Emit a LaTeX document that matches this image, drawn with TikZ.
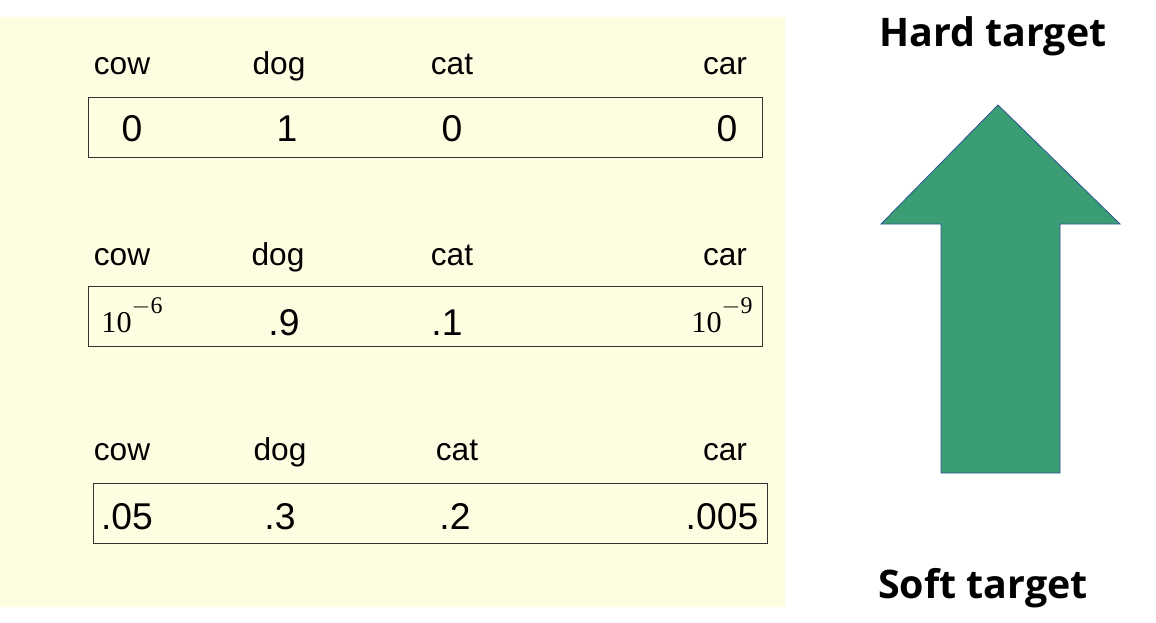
\documentclass[tikz,border=0pt]{standalone}
\usepackage{fontspec}
\setmainfont{Liberation Sans}
\newfontfamily\timesfont{Liberation Serif}
\newfontfamily\headfont{Open Sans}
\usepackage{xcolor}
\usepackage{tikz}
\usetikzlibrary{positioning, calc}
\definecolor{PaleYellow}{RGB}{255,253,225}
\definecolor{ArrowGreen}{RGB}{58,157,115}
\definecolor{ArrowEdge}{RGB}{47,85,151}
\newcommand{\tenpow}[1]{10\raisebox{0.62em}{\fontsize{17}{19}\selectfont$-$#1}}

\begin{document}
\begin{tikzpicture}[
    x=0.025cm, y=-0.025cm,
    label/.style={font=\fontsize{22.5}{24}\selectfont, inner sep=0pt, anchor=base},
    value/.style={font=\fontsize{26.5}{28}\selectfont, inner sep=0pt, anchor=base},
    power/.style={font=\timesfont\fontsize{21.5}{24}\selectfont, inner sep=0pt, anchor=base},
    vecbox/.style={rectangle, draw=black!80, thin, minimum width=674*0.025cm,
                   minimum height=60*0.025cm, inner sep=0pt},
    heading/.style={font=\headfont\bfseries\fontsize{28}{30}\selectfont, inner sep=0pt, anchor=base},
    bigarrow/.style={fill=ArrowGreen, draw=ArrowEdge, line width=0.6pt}
]
\useasboundingbox (0,0) rectangle (1156,623);

% Background panel
\fill[PaleYellow] (0,17) rectangle (785,607);

% Row 1 - hard target
\node[vecbox] (hardbox) at (425,127) {};
\node[label] (cow1) at (122,75) {cow};
\node[label] (dog1) at (279,75) {dog};
\node[label] (cat1) at (452,75) {cat};
\node[label] (car1) at (725,75) {car};
\node[value] (v11) at (132,142) {0};
\node[value] (v12) at (287,142) {1};
\node[value] (v13) at (452,142) {0};
\node[value] (v14) at (727,142) {0};

% Row 2 - raw probabilities
\node[vecbox] (probbox) at (425,316.5) {};
\node[label] (cow2) at (122,265) {cow};
\node[label] (dog2) at (278,265) {dog};
\node[label] (cat2) at (452,265) {cat};
\node[label] (car2) at (725,265) {car};
\node[power] (v21) at (132,332) {\tenpow{6}};
\node[value] (v22) at (284,335) {.9};
\node[value] (v23) at (447,335) {.1};
\node[power] (v24) at (722,332) {\tenpow{9}};

% Row 3 - soft target
\node[vecbox] (softbox) at (430,513.5) {};
\node[label] (cow3) at (122,460) {cow};
\node[label] (dog3) at (280,460) {dog};
\node[label] (cat3) at (457,460) {cat};
\node[label] (car3) at (725,460) {car};
\node[value] (v31) at (127,529) {.05};
\node[value] (v32) at (280,529) {.3};
\node[value] (v33) at (455,529) {.2};
\node[value] (v34) at (722,529) {.005};

% Right side - direction arrow
\node[heading] (hard) at (993,47) {Hard target};
\node[heading] (soft) at (983,598) {Soft target};
\draw[bigarrow] (941,473) -- (941,224) -- (881,224) -- (998,105)
    -- (1120,224) -- (1060,224) -- (1060,473) -- cycle;

\end{tikzpicture}
\end{document}
